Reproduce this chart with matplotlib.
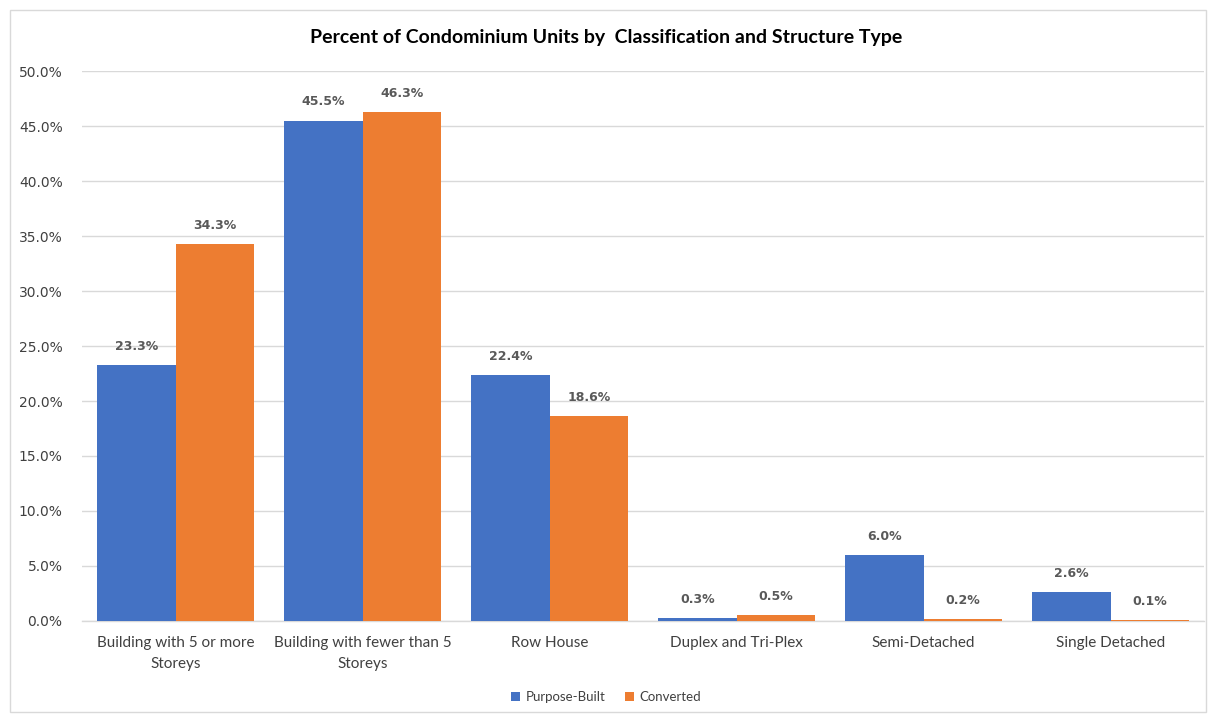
import numpy as np
import matplotlib.pyplot as plt
from matplotlib.patches import Rectangle

# data
categories = ["Building with 5 or more\nStoreys", "Building with fewer than 5\nStoreys",
              "Row House", "Duplex and Tri-Plex", "Semi-Detached", "Single Detached"]
purpose_built = [23.3, 45.5, 22.4, 0.3, 6.0, 2.6]
converted = [34.3, 46.3, 18.6, 0.5, 0.2, 0.1]
series_names = ["Purpose-Built", "Converted"]

BLUE = "#4472C4"
ORANGE = "#ED7D31"
TXT = "#404040"

fig = plt.figure(figsize=(12.12, 7.16), dpi=100)
ax = fig.add_axes([0.0677, 0.1327, 0.9257, 0.7681])

x = np.arange(len(categories))
w = 0.42
b1 = ax.bar(x - w / 2, purpose_built, w, color=BLUE, label=series_names[0], zorder=3)
b2 = ax.bar(x + w / 2, converted, w, color=ORANGE, label=series_names[1], zorder=3)

# data labels
for bars, vals in ((b1, purpose_built), (b2, converted)):
    for r, v in zip(bars, vals):
        ax.text(r.get_x() + r.get_width() / 2, v + 1.1, f"{v:.1f}%", ha="center", va="bottom",
                fontsize=9, fontweight="bold", color="#595959", family="DejaVu Sans")

ax.set_xlim(-0.5, len(categories) - 0.5)
ax.set_ylim(0, 50)
ax.set_yticks(np.arange(0, 50.1, 5))
ax.set_yticklabels([f"{t:.1f}%" for t in np.arange(0, 50.1, 5)], family="DejaVu Sans",
                   fontsize=10, color=TXT)
ax.set_xticks(x)
ax.set_xticklabels(categories, family="Lato", fontsize=11, color=TXT, linespacing=1.6)
ax.tick_params(axis="both", length=0)
ax.tick_params(axis="y", pad=14)
ax.tick_params(axis="x", pad=11)
ax.grid(axis="y", color="#D9D9D9", linewidth=1, zorder=0)
for s in ["left", "right", "top"]:
    ax.spines[s].set_visible(False)
ax.spines["bottom"].set_color("#D9D9D9")
ax.spines["bottom"].set_linewidth(1)

fig.text(0.5, 0.948, "Percent of Condominium Units by  Classification and Structure Type",
         ha="center", va="center", fontsize=14, fontweight="bold", family="Lato", color="black")

leg = fig.legend(handles=[b1, b2], loc="center", bbox_to_anchor=(0.5, 0.026), ncol=2,
                 frameon=False, handlelength=0.7, handleheight=0.7,
                 columnspacing=1.5, handletextpad=0.4, prop={"family": "Lato", "size": 9.5})
for t in leg.get_texts():
    t.set_color(TXT)

# chart border
fig.patches.append(Rectangle((10 / 1212, 4 / 716), 1196 / 1212, 702 / 716, transform=fig.transFigure,
                             fill=False, edgecolor="#D9D9D9", linewidth=1))

fig.savefig("out.png", dpi=100)
